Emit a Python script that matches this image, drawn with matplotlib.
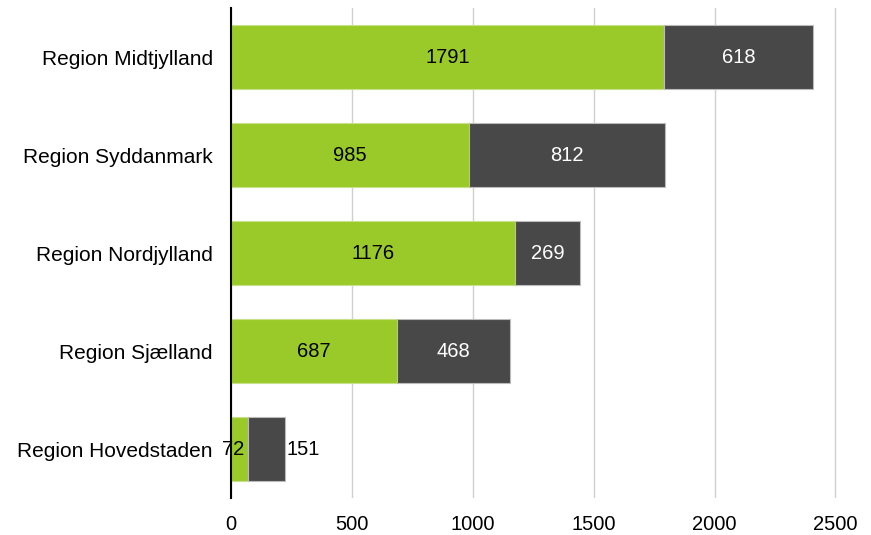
import matplotlib.pyplot as plt

regions = ['Region Midtjylland', 'Region Syddanmark', 'Region Nordjylland',
           'Region Sjælland', 'Region Hovedstaden']
green_vals = [1791, 985, 1176, 687, 72]
dark_vals = [618, 812, 269, 468, 151]

plt.rcParams['font.family'] = ['Liberation Sans', 'DejaVu Sans']

fig = plt.figure(figsize=(8.71, 5.35), dpi=100)
ax = fig.add_axes([0.265, 0.069, 0.722, 0.916])

y = list(range(len(regions)))
b1 = ax.barh(y, green_vals, height=0.66, color='#99ca29', edgecolor='#c8e08a', linewidth=0.8, zorder=3)
b2 = ax.barh(y, dark_vals, left=green_vals, height=0.66, color='#484848', edgecolor='#bbbbbb', linewidth=0.8, zorder=3)

for i, (g, d) in enumerate(zip(green_vals, dark_vals)):
    ax.text(g / 2 - 25 * (g < 200), i, str(g), ha='center', va='center', fontsize=14.5, color='black', zorder=4)
    if d > 200:
        ax.text(g + d / 2, i, str(d), ha='center', va='center', fontsize=14.5, color='white', zorder=4)
    else:
        ax.text(g + d + 8, i, str(d), ha='left', va='center', fontsize=14.5, color='black', zorder=4)

ax.set_yticks(y)
ax.set_yticklabels(regions, fontsize=15)
ax.set_ylim(4.5, -0.5)
ax.set_xlim(0, 2600)
ax.set_xticks([0, 500, 1000, 1500, 2000, 2500])
ax.tick_params(axis='x', labelsize=14.5, length=0, pad=12)
ax.tick_params(axis='y', length=0, pad=13)
ax.xaxis.grid(True, color='#d0d0d0', linewidth=1, zorder=0)
for s in ['top', 'right', 'bottom']:
    ax.spines[s].set_visible(False)
ax.spines['left'].set_color('black')
ax.spines['left'].set_linewidth(1.5)
ax.spines['left'].set_zorder(5)

fig.savefig('out.png', dpi=100)
